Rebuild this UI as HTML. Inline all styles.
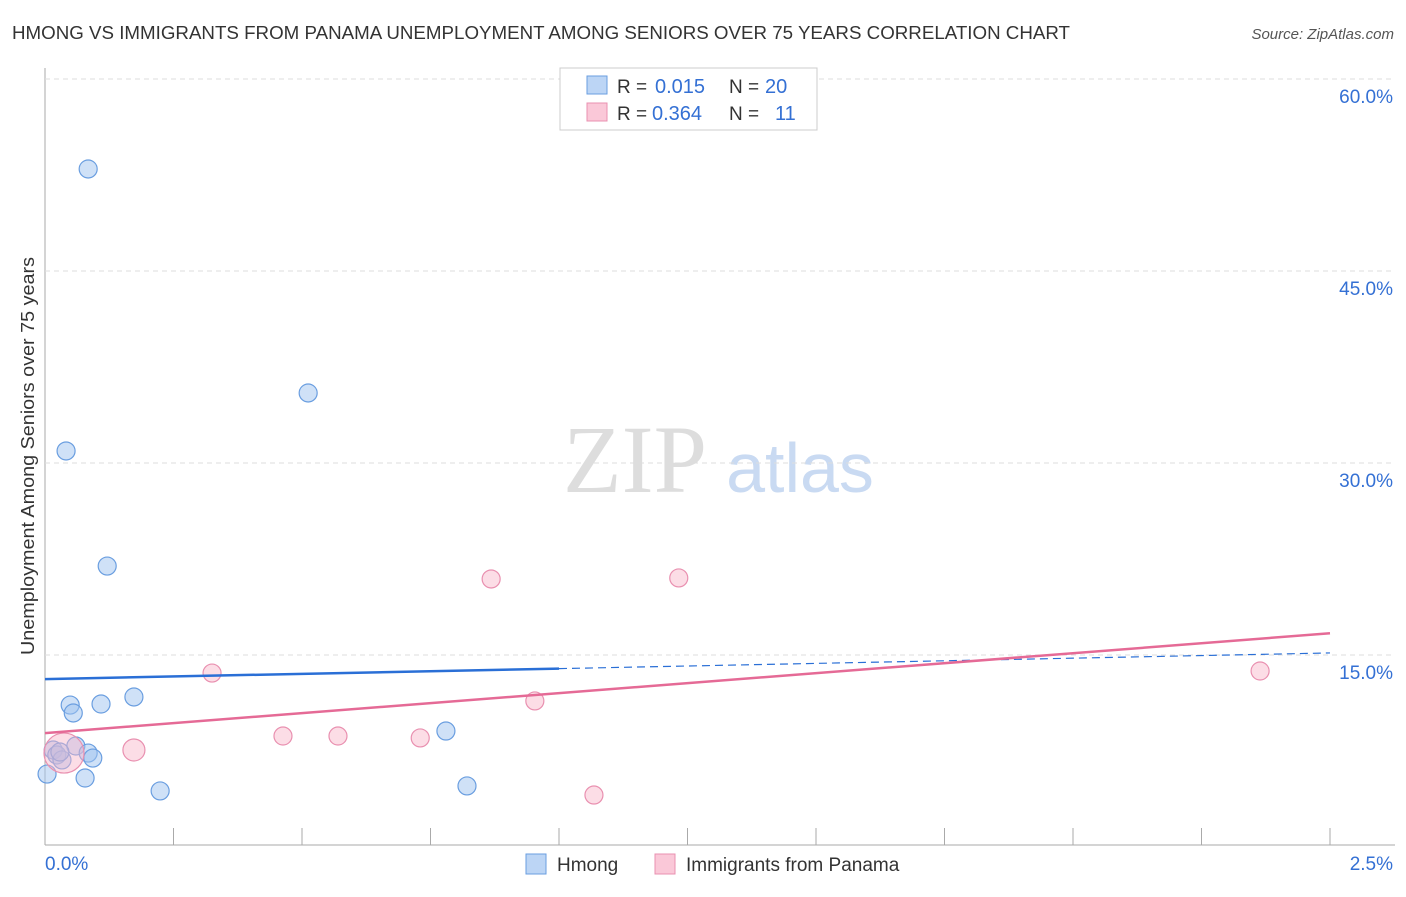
<!DOCTYPE html>
<html><head><meta charset="utf-8"><style>
body{margin:0;background:#fff;font-family:"Liberation Sans",sans-serif;}
</style></head><body>
<svg id="c" width="1406" height="892" xmlns="http://www.w3.org/2000/svg">
<text x="12" y="39" font-size="18" fill="#333" textLength="1058" lengthAdjust="spacingAndGlyphs">HMONG VS IMMIGRANTS FROM PANAMA UNEMPLOYMENT AMONG SENIORS OVER 75 YEARS CORRELATION CHART</text>
<text x="1394" y="39" font-size="15" fill="#555" font-style="italic" text-anchor="end">Source: ZipAtlas.com</text>
<text x="34" y="456" font-size="18" fill="#333" text-anchor="middle" textLength="398" lengthAdjust="spacingAndGlyphs" transform="rotate(-90 34 456)">Unemployment Among Seniors over 75 years</text>
<text x="635" y="492" font-size="96" fill="#ddd" font-family="Liberation Serif,serif" text-anchor="middle">ZIP</text>
<text x="800" y="492" font-size="70" fill="#c9daf2" text-anchor="middle">atlas</text>
<g id="grid"></g><g id="marks"></g>
<g>
<rect x="560" y="68" width="257" height="62" fill="#fff" stroke="#ccc"/>
<rect x="587" y="76" width="20" height="18" fill="#bcd5f5" stroke="#6a9ee0"/>
<text x="617" y="93" font-size="19" fill="#333">R =</text>
<text x="655" y="93" font-size="20" fill="#3470d4">0.015</text>
<text x="729" y="93" font-size="19" fill="#333">N =</text>
<text x="765" y="93" font-size="20" fill="#3470d4">20</text>
<rect x="587" y="103" width="20" height="18" fill="#fac8d8" stroke="#e990b0"/>
<text x="617" y="120" font-size="19" fill="#333">R =</text>
<text x="652" y="120" font-size="20" fill="#3470d4">0.364</text>
<text x="729" y="120" font-size="19" fill="#333">N =</text>
<text x="775" y="120" font-size="20" fill="#3470d4">11</text>
</g>
<g>
<rect x="526" y="854" width="20" height="20" fill="#bcd5f5" stroke="#6a9ee0"/>
<text x="557" y="871" font-size="19" fill="#333">Hmong</text>
<rect x="655" y="854" width="20" height="20" fill="#fac8d8" stroke="#e990b0"/>
<text x="686" y="871" font-size="19" fill="#333">Immigrants from Panama</text>
</g>
</svg>
<script>
const hmongX=[0.084,0.512,0.041,0.121,0.173,0.049,0.055,0.109,0.780,0.016,0.023,0.033,0.060,0.084,0.093,0.004,0.078,0.224,0.821,0.029];
const hmongY=[52.97,35.47,30.94,21.95,11.72,11.09,10.47,11.17,9.06,7.58,7.19,6.80,7.89,7.34,6.95,5.70,5.39,4.38,4.77,7.42];
const panX=[0.868,1.233,0.325,2.364,0.953,0.463,0.570,0.730,0.173,1.068,0.037];
const panY=[20.94,21.02,13.59,13.75,11.41,8.67,8.67,8.52,7.58,4.06,7.34];
const panR=[9,9,9,9,9,9,9,9,11,9,20];
const hmongTrend=[13.12,15.16];
const panTrend=[8.9,16.7];
const yTicks=[15,30,45,60];
const xTickLabels=["0.0%","2.5%"];
const NS="http://www.w3.org/2000/svg";
const sx=v=>45+v/2.5*1285, sy=v=>847-v/15*192;
function mk(p,tag,a){const e=document.createElementNS(NS,tag);for(const k in a)e.setAttribute(k,a[k]);p.appendChild(e);return e;}
const g=document.getElementById('grid'),m=document.getElementById('marks');
let ax=mk(g,'line',{x1:45,y1:68,x2:45,y2:845,stroke:'#aaa'});


let bx=mk(g,'line',{x1:45,y1:845,x2:1395,y2:845,stroke:'#aaa'});


for(let i=1;i<=10;i++){const t=mk(g,'line',{x1:sx(i*0.25),y1:828,x2:sx(i*0.25),y2:845,stroke:'#aaa'});

}
yTicks.forEach(v=>{const l=mk(g,'line',{x1:45,y1:sy(v),x2:1395,y2:sy(v),stroke:'#ddd','stroke-dasharray':'5,4'});


const t=mk(g,'text',{x:1393,y:sy(v)+24,'font-size':19,fill:'#3470d4','text-anchor':'end'});t.textContent=v.toFixed(1)+'%';

});
[[45,'start'],[1393,'end']].forEach((p,i)=>{const t=mk(g,'text',{x:p[0],y:870,'font-size':19,fill:'#3470d4','text-anchor':p[1]});t.textContent=xTickLabels[i];

});
hmongX.forEach((x,i)=>{const c=mk(m,'circle',{cx:sx(x),cy:sy(hmongY[i]),r:9,fill:'rgba(160,195,240,0.5)',stroke:'#6a9ee0','stroke-width':1.2});

});
panX.forEach((x,i)=>{const c=mk(m,'circle',{cx:sx(x),cy:sy(panY[i]),r:panR[i],fill:'rgba(248,180,200,0.45)',stroke:'#e990b0','stroke-width':1.2});

});
const mid=1.0;
const hy=x=>hmongTrend[0]+(hmongTrend[1]-hmongTrend[0])*x/2.5;
let l1=mk(m,'line',{x1:sx(0),y1:sy(hy(0)),x2:sx(mid),y2:sy(hy(mid)),stroke:'#2a6fd6','stroke-width':2.5});


let l2=mk(m,'line',{x1:sx(mid),y1:sy(hy(mid)),x2:sx(2.5),y2:sy(hy(2.5)),stroke:'#2a6fd6','stroke-width':1.2,'stroke-dasharray':'8,5'});


let l3=mk(m,'line',{x1:sx(0),y1:sy(panTrend[0]),x2:sx(2.5),y2:sy(panTrend[1]),stroke:'#e56a96','stroke-width':2.5});


</script>
</body></html>
